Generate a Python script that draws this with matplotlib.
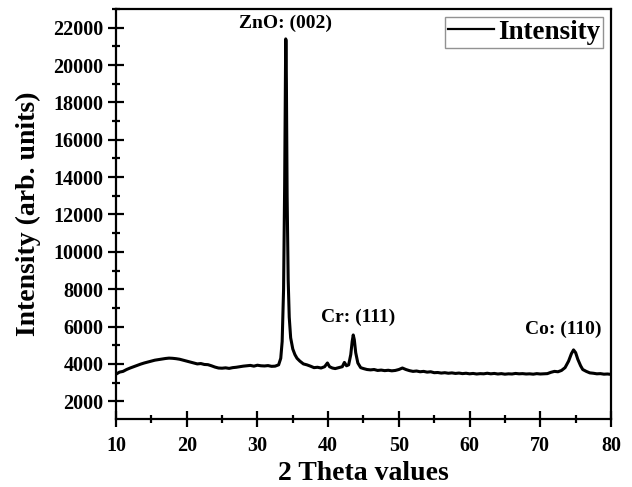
import matplotlib
matplotlib.use("Agg")
import matplotlib.pyplot as plt
from matplotlib.ticker import MultipleLocator

two_theta = [10, 10.5, 11, 11.5, 12, 12.5, 13, 13.5, 14, 14.5, 15, 15.5, 16, 16.5, 17, 17.5,
             18, 18.5, 19, 19.5, 20, 20.5, 21, 21.5, 22, 22.5, 23, 23.5, 24, 24.5, 25, 25.5,
             26, 26.5, 27, 27.5, 28, 28.5, 29, 29.5, 30, 30.5, 31, 31.5, 32, 32.5, 33, 33.3,
             33.5, 33.7, 33.85, 33.95, 34.0, 34.05, 34.1, 34.2, 34.35, 34.5, 34.7, 35, 35.3,
             35.6, 36, 36.5, 37, 37.5, 38, 38.5, 39, 39.5, 39.9, 40.2, 40.6, 41, 41.5, 42,
             42.3, 42.6, 42.9, 43.2, 43.4, 43.55, 43.7, 43.9, 44.2, 44.6, 45, 45.5, 46, 46.5,
             47, 47.5, 48, 48.5, 49, 49.5, 50, 50.5, 51, 51.5, 52, 52.5, 53, 53.5, 54, 54.5,
             55, 55.5, 56, 56.5, 57, 57.5, 58, 58.5, 59, 59.5, 60, 60.5, 61, 61.5, 62, 62.5,
             63, 63.5, 64, 64.5, 65, 65.5, 66, 66.5, 67, 67.5, 68, 68.5, 69, 69.5, 70, 70.5,
             71, 71.5, 72, 72.5, 73, 73.5, 74, 74.4, 74.7, 75, 75.3, 75.7, 76, 76.5, 77, 77.5,
             78, 78.5, 79, 79.5, 80]
intensity = [3450, 3560, 3600, 3700, 3780, 3850, 3920, 3990, 4050, 4100, 4150, 4200, 4230, 4260, 4290, 4310,
             4300, 4280, 4250, 4200, 4150, 4100, 4050, 4000, 4020, 3970, 3960, 3900, 3830, 3780, 3770, 3790,
             3760, 3800, 3820, 3850, 3880, 3900, 3920, 3880, 3930, 3900, 3890, 3910, 3870, 3880, 3950, 4300,
             5200, 8000, 13500, 19000, 21400, 21300, 19000, 13000, 8500, 6500, 5400, 4800, 4500,
             4300, 4150, 4000, 3950, 3880, 3800, 3820, 3780, 3850, 4050, 3850, 3780, 3750, 3800, 3850,
             4080, 3900, 3950, 4500, 5200, 5550, 5300, 4600, 4050, 3800, 3750, 3700, 3680, 3700,
             3650, 3670, 3640, 3660, 3630, 3650, 3700, 3780, 3700, 3640, 3600, 3620, 3580, 3600, 3560, 3580,
             3530, 3540, 3510, 3530, 3500, 3520, 3490, 3510, 3480, 3500, 3470, 3490, 3460, 3480, 3470, 3500,
             3470, 3490, 3460, 3480, 3450, 3470, 3460, 3490, 3470, 3480, 3460, 3470, 3450, 3480, 3460, 3470,
             3480, 3550, 3600, 3580, 3650, 3800, 4150, 4550, 4750, 4600, 4250, 3900, 3700, 3600, 3520, 3500,
             3470, 3480, 3450, 3460, 3440]

x_ticks = [10, 20, 30, 40, 50, 60, 70, 80]
y_ticks = [2000, 4000, 6000, 8000, 10000, 12000, 14000, 16000, 18000, 20000, 22000]
peak_labels = ["ZnO: (002)", "Cr: (111)", "Co: (110)"]
peak_label_x = [34.0, 44.3, 73.2]
peak_label_y = [22250, 6500, 5870]

plt.rcParams['font.family'] = ['Liberation Serif', 'DejaVu Serif']
plt.rcParams['font.weight'] = 'bold'

fig = plt.figure(figsize=(6.32, 4.87), dpi=100)
ax = fig.add_axes([0.1835, 0.1396, 0.7833, 0.8419])

ax.plot(two_theta, intensity, color='black', linewidth=2.2, label='Intensity')

ax.set_xlim(10, 80)
ax.set_ylim(1050, 23000)
ax.set_xticks(x_ticks)
ax.set_yticks(y_ticks)
ax.xaxis.set_minor_locator(MultipleLocator(5))
ax.yaxis.set_minor_locator(MultipleLocator(1000))
ax.tick_params(which='major', direction='inout', length=12, width=1.6, labelsize=14.5)
ax.tick_params(which='minor', direction='inout', length=6, width=1.6)
ax.tick_params(axis='x', which='major', pad=6)
ax.tick_params(axis='y', which='major', pad=3)
ax.tick_params(top=False, right=False, which='both')
for lab in ax.get_xticklabels() + ax.get_yticklabels():
    lab.set_fontweight('bold')
for sp in ax.spines.values():
    sp.set_linewidth(1.6)

ax.set_xlabel('2 Theta values', fontsize=20, fontweight='bold', labelpad=4)
ax.set_ylabel('Intensity (arb. units)', fontsize=20, fontweight='bold', labelpad=9)

for t, xx, yy in zip(peak_labels, peak_label_x, peak_label_y):
    ax.text(xx, yy, t, ha='center', va='center', fontsize=14, fontweight='bold')

leg = ax.legend(loc='upper right', frameon=True, fancybox=False,
                handlelength=1.7, handletextpad=0.15, borderpad=0.1,
                borderaxespad=0.3, prop={'weight': 'bold', 'size': 19.5})
leg.get_frame().set_edgecolor('#777777')
leg.get_frame().set_linewidth(1.0)
for h in leg.get_lines():
    h.set_linewidth(1.6)

fig.savefig('out.png', dpi=100)
